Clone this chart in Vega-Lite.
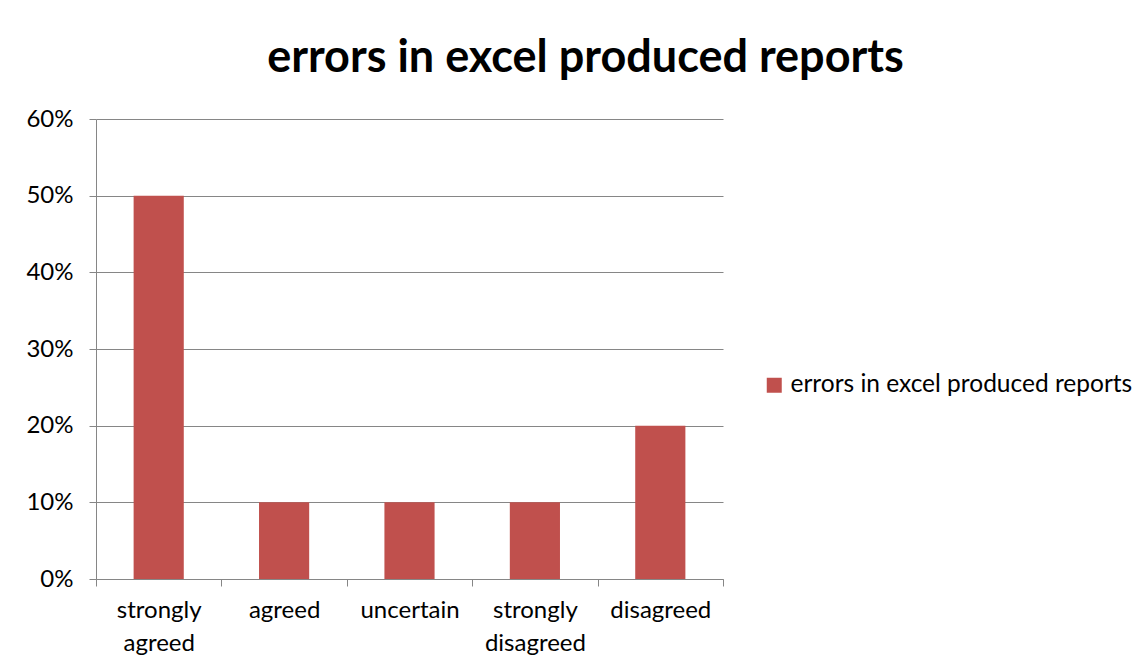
{
  "$schema": "https://vega.github.io/schema/vega-lite/v6.json",
  "autosize": {"type": "none"},
  "width": 627,
  "height": 460,
  "padding": {"left": 96, "top": 119, "right": 424, "bottom": 93},
  "background": "white",
  "title": {
    "text": "errors in excel produced reports",
    "font": "Lato",
    "fontSize": 45,
    "fontWeight": "bold",
    "color": "#000000",
    "anchor": "middle",
    "frame": "group",
    "baseline": "alphabetic",
    "offset": 46,
    "dx": 176,
    "dy": 56,
    "limit": 1000
  },
  "data": {
    "values": [
      {"response": "strongly agreed", "share": 0.5, "series": "errors in excel produced reports"},
      {"response": "agreed", "share": 0.1, "series": "errors in excel produced reports"},
      {"response": "uncertain", "share": 0.1, "series": "errors in excel produced reports"},
      {"response": "strongly disagreed", "share": 0.1, "series": "errors in excel produced reports"},
      {"response": "disagreed", "share": 0.2, "series": "errors in excel produced reports"}
    ]
  },
  "mark": {"type": "bar", "width": {"band": 0.4}},
  "encoding": {
    "x": {
      "field": "response",
      "type": "nominal",
      "sort": null,
      "scale": {"paddingInner": 0, "paddingOuter": 0},
      "axis": {
        "title": null,
        "labelAngle": 0,
        "labelExpr": "isValid(datum.value) ? split(datum.value, ' ') : ''",
        "labelFont": "Lato",
        "labelFontSize": 24,
        "labelColor": "#000000",
        "labelLineHeight": 33,
        "labelPadding": 12,
        "tickBand": "extent",
        "tickSize": 7,
        "tickColor": "#868686",
        "domainColor": "#868686",
        "grid": false
      }
    },
    "y": {
      "field": "share",
      "type": "quantitative",
      "scale": {"domain": [0, 0.6], "nice": false},
      "axis": {
        "title": null,
        "format": ".0%",
        "values": [0, 0.1, 0.2, 0.3, 0.4, 0.5, 0.6],
        "labelFont": "Lato",
        "labelFontSize": 24,
        "labelColor": "#000000",
        "labelPadding": 16,
        "tickSize": 7,
        "tickColor": "#868686",
        "domainColor": "#868686",
        "grid": true,
        "gridColor": "#868686"
      }
    },
    "color": {
      "field": "series",
      "type": "nominal",
      "scale": {"range": ["#C0504D"]},
      "legend": {
        "title": null,
        "orient": "none",
        "legendX": 666,
        "legendY": 254,
        "symbolType": "square",
        "symbolSize": 225,
        "symbolStrokeWidth": 0,
        "labelFont": "Lato",
        "labelFontSize": 24.5,
        "labelColor": "#000000",
        "labelOffset": 4,
        "labelLimit": 500
      }
    }
  },
  "config": {
    "view": {"stroke": null},
    "axis": {"domainWidth": 1, "tickWidth": 1, "gridWidth": 1}
  }
}
